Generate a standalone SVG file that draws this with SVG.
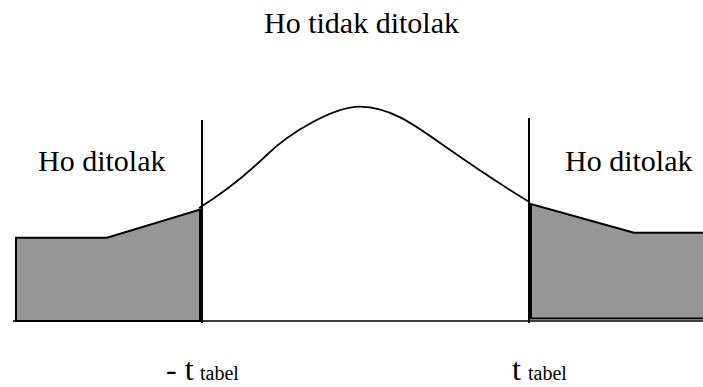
<svg xmlns="http://www.w3.org/2000/svg" width="703" height="387" viewBox="0 0 703 387">
<style>
.reg{fill:#969696;stroke:#000;stroke-width:2;stroke-linejoin:miter}
.ln{stroke:#000;fill:none}
text{font-family:'Liberation Serif','Times New Roman','DejaVu Serif',serif;fill:#000}
</style>
<rect width="703" height="387" fill="#fff"/>
<g id="left-region"><polygon class="reg" points="16,321 16,237.7 107,237.7 200,209.5 200,321"/></g>
<g id="right-region"><polygon class="reg" points="531,318.5 531,204 634,232.7 705,232.7 705,318.5"/></g>
<g id="axis"><line class="ln" x1="13" y1="321" x2="703" y2="321" stroke-width="1.5"/></g>
<g id="connectors">
<line class="ln" x1="202" y1="120" x2="202" y2="323" stroke-width="2"/>
<line class="ln" x1="529" y1="118" x2="529" y2="323" stroke-width="2"/>
<path class="ln" stroke-width="1.8" d="M199,208 C222,193.8 244.7,176.3 266.7,155 C291.7,130.75 335,106.7 360,106.7 C390,106.7 415,125.4 443,145 C471,164.6 501,184.9 529,201.7"/>
</g>
<g id="label-top"><text x="264" y="33" font-size="30">Ho tidak ditolak</text></g>
<g id="label-left"><text x="38" y="171" font-size="30">Ho ditolak</text></g>
<g id="label-right"><text x="565" y="171" font-size="30">Ho ditolak</text></g>
<g id="label-neg-t"><text x="166" y="380" font-size="32">- t</text><text x="200" y="380" font-size="20">tabel</text></g>
<g id="label-t"><text x="512" y="380" font-size="32">t</text><text x="528" y="380" font-size="20">tabel</text></g>
</svg>
